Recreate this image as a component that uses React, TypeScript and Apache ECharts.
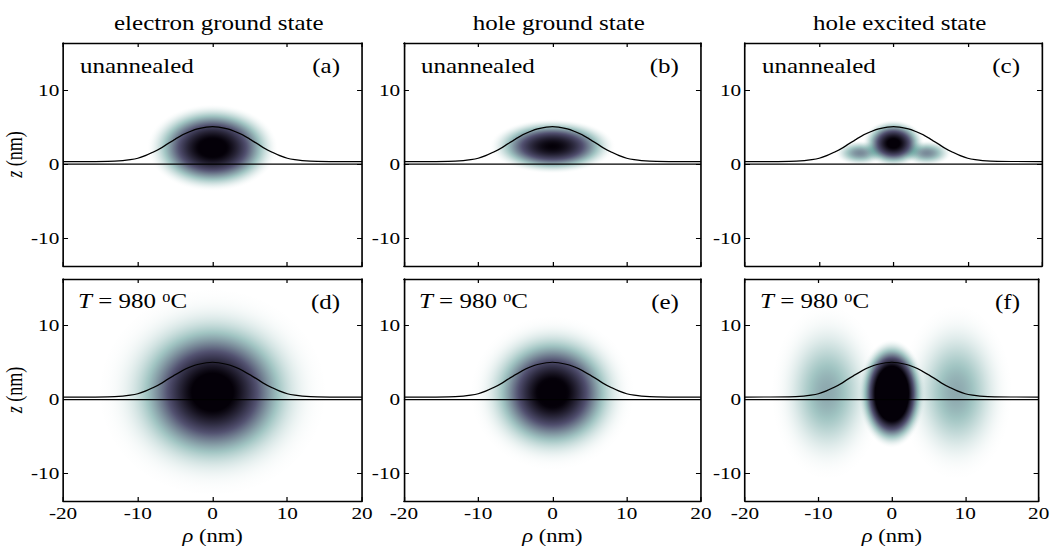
import React, { useEffect, useRef } from 'react';
import * as echarts from 'echarts';

// ---------- data ----------
const rhoTickValues = [-20, -10, 0, 10, 20];
const zTickValues = [-10, 0, 10];
const columnTitles = ['electron ground state', 'hole ground state', 'hole excited state'];
const panelTags = ['(a)', '(b)', '(c)', '(d)', '(e)', '(f)'];
const rowLabels = ['unannealed', 'T = 980 0C'];

// quantum-dot profile (upper interface)
const dotRho = [-20, -14, -12, -11, -10, -9, -8, -7, -6, -5, -4, -3, -2, 0, 2, 3, 4, 5, 6, 7, 8, 9, 10, 11, 12, 14, 20];
const dotZ = [0.35, 0.38, 0.48, 0.6, 0.8, 1.15, 1.6, 2.1, 2.75, 3.35, 3.95, 4.4, 4.75, 5.05, 4.75, 4.4, 3.95, 3.35, 2.75, 2.1, 1.6, 1.15, 0.8, 0.6, 0.48, 0.38, 0.35];
// substrate interface
const baseRho = [-20, 20];
const baseZ = [0, 0];

// probability-density lobes:
// [rho centre, z centre, rho radius, z radius, peak level, softness of the fall-off]
const blobsA = [[0, 2.2, 8.8, 5.9, 1.1, 2]];
const blobsB = [[0, 2.4, 8.5, 3.7, 1.0, 2]];
const blobsC = [[-4.5, 1.5, 3.4, 1.7, 0.42, 2], [4.5, 1.5, 3.4, 1.7, 0.42, 2], [0, 2.8, 4.2, 3.2, 1.08, 2]];
const blobsD = [[0, 1.0, 18.5, 17, 1.15, 6]];
const blobsE = [[0, 0.9, 12.1, 11.4, 1.12, 4]];
const blobsF = [[-8.8, 1.0, 8.7, 13.5, 0.33, 4], [8.8, 1.0, 8.7, 13.5, 0.33, 4], [0, 0.8, 4.55, 7.4, 1.8, 2]];
const panelBlobs = [blobsA, blobsB, blobsC, blobsD, blobsE, blobsF];

// ---------- layout / style ----------
const STRETCH = 1053 / 842;
const GRID_LEFT = [50.4, 323.0, 595.7];
const GRID_WIDTH = [239.1, 237.5, 237.5];
const GRID_TOP = [43, 279];
const GRID_HEIGHT = [223, 222];
const Z_MIN = -13.7;
const Z_MAX = 16.3;
const FONT = '"Liberation Serif", "Times New Roman", serif';

// reversed "bone" colour map
const cmapStops: [number, number[]][] = [
  [0, [255, 255, 255]],
  [0.25, [160, 196, 194]],
  [0.6, [80, 78, 110]],
  [1, [4, 0, 8]],
];
function cmap(d: number): number[] {
  const v = Math.max(0, Math.min(1, d));
  for (let i = 1; i < cmapStops.length; i++) {
    const [d1, c1] = cmapStops[i];
    const [d0, c0] = cmapStops[i - 1];
    if (v <= d1) {
      const t = (v - d0) / (d1 - d0);
      return c0.map((c, k) => c + (c1[k] - c) * t);
    }
  }
  return cmapStops[cmapStops.length - 1][1];
}
// colour over white expressed as a translucent ink so overlapping lobes blend
function ink(d: number): string {
  const c = cmap(d);
  const a = 1 - Math.min(c[0], c[1], c[2]) / 255;
  if (a < 0.002) return 'rgba(255,255,255,0)';
  const k = c.map((v) => Math.max(0, Math.min(255, Math.round((v - 255 * (1 - a)) / a))));
  return `rgba(${k[0]},${k[1]},${k[2]},${a.toFixed(3)})`;
}
// radial shading of one lobe (smooth fall-off to zero at the rim)
function blobFill(peak: number, soft: number) {
  const colorStops = [];
  const n = 40;
  for (let i = 0; i <= n; i++) {
    const f = i / n;
    const q = 1 - f * f;
    const d = Math.min(1, peak * Math.pow(q, soft));
    colorStops.push({ offset: f, color: ink(d) });
  }
  return { type: 'radial', x: 0.5, y: 0.5, r: 0.5, colorStops };
}

export default function App() {
  const ref = useRef<HTMLDivElement>(null);
  useEffect(() => {
    if (!ref.current) return;
    const chart = echarts.init(ref.current, null, { renderer: 'svg' });

    const grids: any[] = [];
    const xAxes: any[] = [];
    const yAxes: any[] = [];
    const series: any[] = [];
    const graphics: any[] = [];
    const titles: any[] = [];

    const axisLine = { show: true, onZero: false, lineStyle: { color: '#000', width: 1.3 } };
    const tickStyle = { color: '#000', width: 1 };

    for (let p = 0; p < 6; p++) {
      const row = Math.floor(p / 3);
      const col = p % 3;
      const left = GRID_LEFT[col];
      const top = GRID_TOP[row];
      const width = GRID_WIDTH[col];
      const height = GRID_HEIGHT[row];
      grids.push({ left, top, width, height, containLabel: false, show: false });

      const xBase = {
        type: 'value', gridIndex: p, min: -20, max: 20, interval: 10,
        axisLine, splitLine: { show: false },
        axisTick: { show: true, inside: true, length: 4, lineStyle: tickStyle },
      };
      xAxes.push({
        ...xBase, position: 'bottom',
        axisLabel: {
          show: row === 1, margin: 4, color: '#000', fontSize: 17, fontFamily: FONT,
          formatter: (v: number) => (rhoTickValues.includes(v) ? String(v) : ''),
        },
        name: row === 1 ? '{i|ρ} (nm)' : '',
        nameLocation: 'middle', nameGap: 26,
        nameTextStyle: { color: '#000', fontSize: 18, fontFamily: FONT, rich: { i: { fontStyle: 'italic', fontSize: 18, fontFamily: FONT } } },
      });
      xAxes.push({ ...xBase, position: 'top', axisLabel: { show: false } });

      const yBase = {
        type: 'value', gridIndex: p, min: Z_MIN, max: Z_MAX,
        axisLine, splitLine: { show: false },
        axisTick: { show: true, inside: true, length: 4, lineStyle: tickStyle, customValues: zTickValues },
      };
      yAxes.push({
        ...yBase, position: 'left',
        axisLabel: { show: true, margin: 3, color: '#000', fontSize: 17, fontFamily: FONT, customValues: zTickValues },
        name: col === 0 ? '{i|z} (nm)' : '',
        nameLocation: 'middle', nameGap: 30,
        nameTextStyle: { color: '#000', fontSize: 18, fontFamily: FONT, rich: { i: { fontStyle: 'italic', fontSize: 18, fontFamily: FONT } } },
      });
      yAxes.push({ ...yBase, position: 'right', axisLabel: { show: false } });

      const xi = p * 2;
      const yi = p * 2;

      series.push({
        type: 'custom', xAxisIndex: xi, yAxisIndex: yi, z: 1, clip: true,
        dimensions: ['rho', 'z', 'rr', 'rz', 'peak', 'soft'],
        encode: { x: 0, y: 1 },
        data: panelBlobs[p],
        renderItem: (params: any, api: any) => {
          const c = api.coord([api.value(0), api.value(1)]);
          const s = api.size([api.value(2), api.value(3)]);
          return {
            type: 'ellipse',
            shape: { cx: c[0], cy: c[1], rx: s[0], ry: s[1] },
            style: { fill: blobFill(api.value(4), api.value(5)) },
          };
        },
      });
      series.push({
        type: 'line', xAxisIndex: xi, yAxisIndex: yi, z: 3, silent: true,
        data: dotRho.map((r, i) => [r, dotZ[i]]),
        smooth: 0.3, symbol: 'none',
        lineStyle: { color: '#000', width: 1.2 },
      });
      series.push({
        type: 'line', xAxisIndex: xi, yAxisIndex: yi, z: 3, silent: true,
        data: baseRho.map((r, i) => [r, baseZ[i]]),
        symbol: 'none',
        lineStyle: { color: '#000', width: 1.3 },
      });

      // panel annotations
      const labelY = row === 0 ? 66 : 301;
      if (row === 0) {
        graphics.push({
          type: 'text', x: left + 13.6, y: labelY, z: 10,
          style: { text: rowLabels[0], fill: '#000', fontSize: 20, fontFamily: FONT, align: 'left', verticalAlign: 'middle', textAlign: 'left', textVerticalAlign: 'middle' },
        });
      } else {
        graphics.push({
          type: 'text', x: left + 12, y: labelY, z: 10,
          style: {
            text: '{t|T}{n| = 980 }{s|0}{n|C}', fill: '#000', fontFamily: FONT, fontSize: 20,
            align: 'left', verticalAlign: 'middle', textAlign: 'left', textVerticalAlign: 'middle',
            rich: {
              t: { fontStyle: 'italic', fontSize: 20, fontFamily: FONT, fill: '#000' },
              n: { fontSize: 20, fontFamily: FONT, fill: '#000' },
              s: { fontSize: 13, fontFamily: FONT, fill: '#000', verticalAlign: 'top' },
            },
          },
        });
      }
      graphics.push({
        type: 'text', x: left + width - 17.6, y: row === 0 ? 66 : 302, z: 10,
        style: { text: panelTags[p], fill: '#000', fontSize: 20, fontFamily: FONT, align: 'right', verticalAlign: 'middle', textAlign: 'right', textVerticalAlign: 'middle' },
      });

      if (row === 0) {
        titles.push({
          text: columnTitles[col], left: left + width / 2, top: 8, textAlign: 'center',
          textStyle: { color: '#000', fontSize: 20, fontWeight: 'normal', fontFamily: FONT },
        });
      }
    }

    chart.setOption({
      animation: false,
      backgroundColor: '#fff',
      title: titles,
      grid: grids,
      xAxis: xAxes,
      yAxis: yAxes,
      series,
      graphic: graphics,
    });
    return () => chart.dispose();
  }, []);

  return (
    <div
      ref={ref}
      style={{
        position: 'absolute', left: 0, top: 0, width: 842, height: 546,
        transform: `scaleX(${STRETCH})`, transformOrigin: '0 0',
      }}
    />
  );
}
